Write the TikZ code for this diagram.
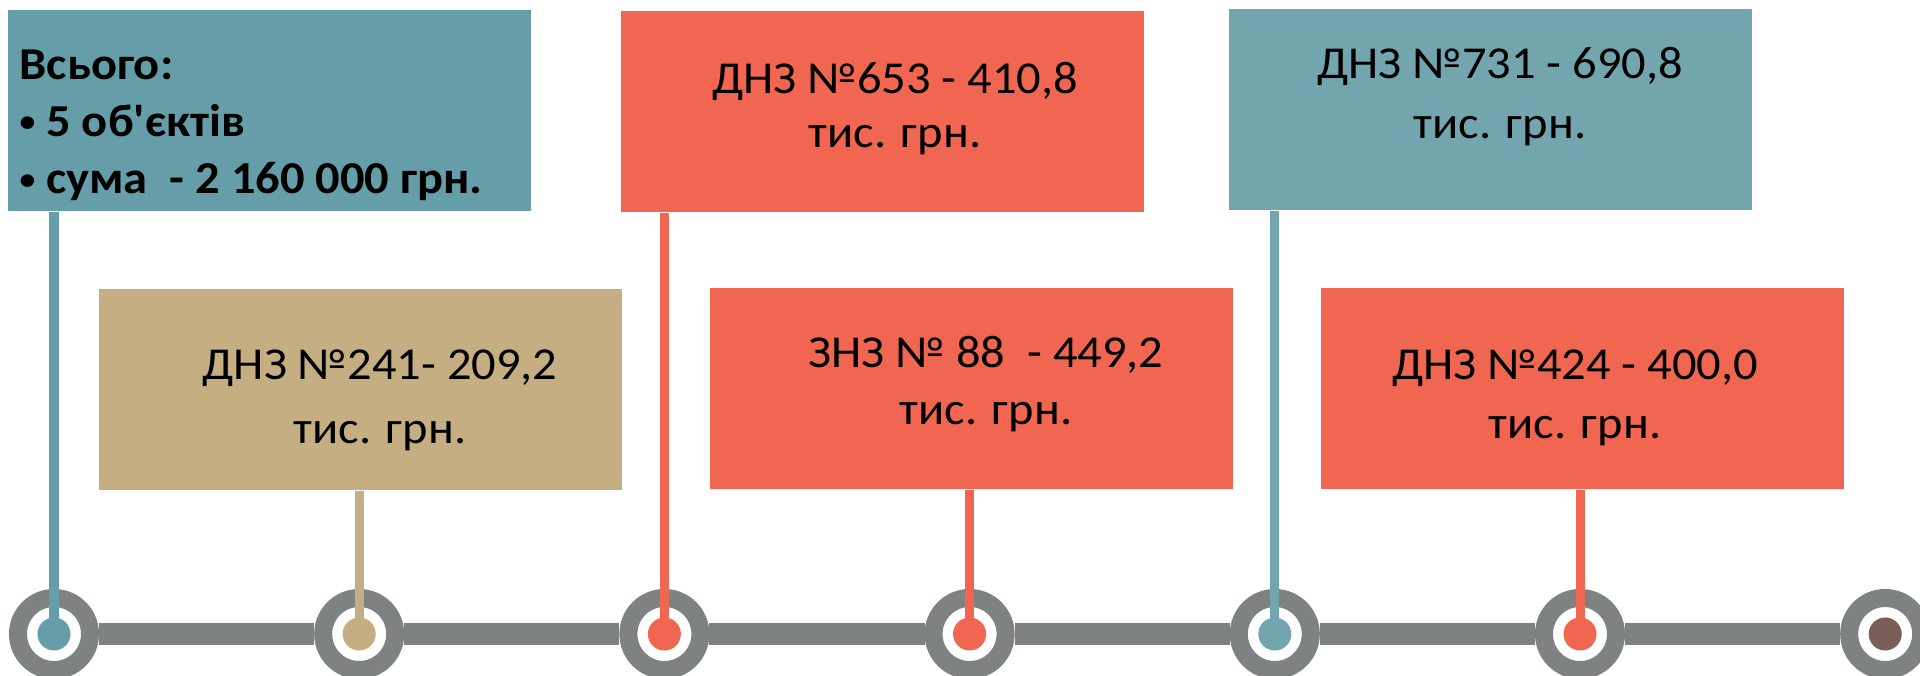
\documentclass[tikz,border=0pt]{standalone}
\usepackage{fontspec}
\setmainfont{Carlito}[Ligatures=TeXOff,FakeStretch=1.06]
\definecolor{tealbox}{HTML}{659EA9}
\definecolor{tealboxlight}{HTML}{73A5AF}
\definecolor{redbox}{HTML}{F06650}
\definecolor{tanbox}{HTML}{C5AE82}
\definecolor{linegray}{HTML}{7F8282}
\definecolor{enddot}{HTML}{7A5E58}
\newcommand\smbullet{\raisebox{1.4pt}{\fontsize{8.5}{8.5}\selectfont •}}
\begin{document}
\begin{tikzpicture}[x=0.01cm,y=-0.01cm,
    box/.style={rectangle,inner sep=0pt,minimum width=5.23cm,minimum height=2.01cm,anchor=north west},
    lbl/.style={inner sep=0pt,anchor=north,align=center,font=\fontsize{13}{#1}\selectfont},
    lbl/.default=16.8pt,
    ring/.style={circle,draw=linegray,line width=0.18cm,fill=white,minimum size=0.72cm,inner sep=0pt},
    dot/.style={circle,fill=#1,minimum size=0.33cm,inner sep=0pt},
    stem/.style={line width=0.09cm,#1}]
  \useasboundingbox (0,0) rectangle (1920,676);
  \foreach \i in {0,...,6}
    \node[ring] (r\i) at (54+305.2*\i,634) {};
  \begin{scope}[linegray,line width=0.22cm]
    \foreach \i [evaluate=\i as \j using int(\i+1)] in {0,...,5}
      \draw (r\i) to (r\j);
  \end{scope}
  \node[box,fill=tealbox] (b0) at (7,9) {};
  \node[box,fill=tanbox] (b1) at (98,288) {};
  \node[box,fill=redbox] (b2) at (620,10) {};
  \node[box,fill=redbox] (b3) at (709,287) {};
  \node[box,fill=tealboxlight] (b4) at (1228,8) {};
  \node[box,fill=redbox] (b5) at (1320,287) {};
  \node[dot=tealbox] (d0) at (r0) {};
  \node[dot=tanbox] (d1) at (r1) {};
  \node[dot=redbox] (d2) at (r2) {};
  \node[dot=redbox] (d3) at (r3) {};
  \node[dot=tealboxlight] (d4) at (r4) {};
  \node[dot=redbox] (d5) at (r5) {};
  \node[dot=enddot] (d6) at (r6) {};
  \draw[stem=tealbox] (d0.center) to (d0 |- b0.south);
  \draw[stem=tanbox] (d1.center) to (d1 |- b1.south);
  \draw[stem=redbox] (d2.center) to (d2 |- b2.south);
  \draw[stem=redbox] (d3.center) to (d3 |- b3.south);
  \draw[stem=tealboxlight] (d4.center) to (d4 |- b4.south);
  \draw[stem=redbox] (d5.center) to (d5 |- b5.south);
  \node[lbl,anchor=north west,align=left,font=\fontsize{13}{16.3}\selectfont\bfseries] (t0) at (19,49)
    {Всього:\\\smbullet{} 5 об'єктів\\\smbullet{} сума~~- 2 160 000 грн.};
  \node[lbl=18.2pt] (t1) at (380,349) {ДНЗ №241- 209,2\\тис. грн.};
  \node[lbl=15.2pt] (t2) at (895,62) {ДНЗ №653 - 410,8\\тис. грн.};
  \node[lbl=16pt] (t3) at (986,336) {ЗНЗ № 88~~- 449,2\\тис. грн.};
  \node[lbl] (t4) at (1500,47) {ДНЗ №731 - 690,8\\тис. грн.};
  \node[lbl] (t5) at (1575,349) {ДНЗ №424 - 400,0\\тис. грн.};
\end{tikzpicture}
\end{document}
